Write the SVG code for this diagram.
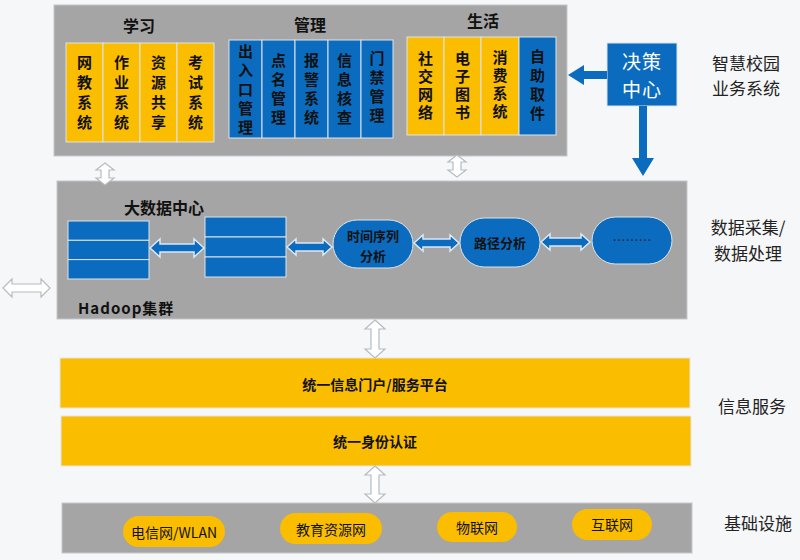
<svg xmlns="http://www.w3.org/2000/svg" width="800" height="560" viewBox="0 0 800 560">
<defs>
<style>
.panel{fill:#a5a5a5;stroke:#c4c8cc;stroke-width:1}
.y{fill:#fbbd00;stroke:#dde4ea;stroke-width:1}
.b{fill:#0b6cbf;stroke:#dde4ea;stroke-width:1}
.vt{font-family:"Noto Sans CJK SC","Noto Sans",sans-serif;font-size:15px;font-weight:bold;fill:#111;text-anchor:middle;writing-mode:vertical-rl}
.s5{letter-spacing:5px}
.s4{letter-spacing:4px}
.s3{letter-spacing:3px}
.hd{font-family:"Noto Sans CJK SC","Noto Sans",sans-serif;font-size:16px;font-weight:bold;fill:#111;text-anchor:middle;dominant-baseline:central}
.lbl{font-family:"Noto Sans CJK SC","Noto Sans",sans-serif;font-size:17px;fill:#222;text-anchor:middle;dominant-baseline:central}
.pt{font-family:"Noto Sans CJK SC","Noto Sans",sans-serif;font-size:13px;font-weight:bold;fill:#111;text-anchor:middle;dominant-baseline:central}
.bt{font-family:"Noto Sans CJK SC","Noto Sans",sans-serif;font-size:14px;fill:#111;text-anchor:middle;dominant-baseline:central}
.hollow{fill:#ffffff;stroke:#b4bcc4;stroke-width:1.2}
.barrow{fill:#0b6cbf;stroke:#dbe8f5;stroke-width:1.5}
.warrow{fill:#0b6cbf;stroke:none}
</style>
</defs>
<rect x="0" y="0" width="800" height="560" fill="#f6f7f8"/>

<g id="top-panel">
<rect class="panel" x="54" y="5" width="513" height="151"/>
</g>

<g id="learning">
<text class="hd" x="139" y="25">学习</text>
<rect class="y" x="66" y="43" width="37" height="99"/>
<rect class="y" x="103" y="43" width="37" height="99"/>
<rect class="y" x="140" y="43" width="37" height="99"/>
<rect class="y" x="177" y="43" width="37" height="99"/>
<text class="vt s5" x="84.5" y="95">网教系统</text>
<text class="vt s5" x="121.5" y="95">作业系统</text>
<text class="vt s5" x="158.5" y="95">资源共享</text>
<text class="vt s5" x="195.5" y="95">考试系统</text>
</g>

<g id="management">
<text class="hd" x="310" y="24">管理</text>
<rect class="b" x="229" y="40" width="33" height="98"/>
<rect class="b" x="262" y="40" width="33" height="98"/>
<rect class="b" x="295" y="40" width="33" height="98"/>
<rect class="b" x="328" y="40" width="33" height="98"/>
<rect class="b" x="361" y="40" width="32" height="98"/>
<text class="vt s4" x="245.5" y="91">出入口管理</text>
<text class="vt s4" x="278.5" y="91">点名管理</text>
<text class="vt s4" x="311.5" y="91">报警系统</text>
<text class="vt s4" x="344.5" y="90.5">信息核查</text>
<text class="vt s4" x="377" y="88.5">门禁管理</text>
</g>

<g id="life">
<text class="hd" x="483" y="20">生活</text>
<rect class="y" x="407" y="37" width="37" height="98"/>
<rect class="y" x="444" y="37" width="37" height="98"/>
<rect class="y" x="481" y="37" width="38" height="98"/>
<rect class="b" x="519" y="37" width="37" height="98"/>
<text class="vt s3" x="425.5" y="86.5">社交网络</text>
<text class="vt s3" x="462.5" y="86.5">电子图书</text>
<text class="vt s3" x="500" y="85.5">消费系统</text>
<text class="vt s4" x="537.5" y="86.5">自助取件</text>
</g>

<g id="decision-center">
<rect class="b" x="607" y="43" width="70" height="63"/>
<text x="642" y="60" font-family="Noto Sans CJK SC, sans-serif" font-size="19" fill="#ffffff" text-anchor="middle" dominant-baseline="central" letter-spacing="1">决策</text>
<text x="642" y="88" font-family="Noto Sans CJK SC, sans-serif" font-size="19" fill="#ffffff" text-anchor="middle" dominant-baseline="central" letter-spacing="1">中心</text>
</g>

<g id="label-business">
<text class="lbl" x="746" y="62">智慧校园</text>
<text class="lbl" x="746" y="87">业务系统</text>
</g>

<g id="data-panel">
<rect class="panel" x="57" y="181" width="630" height="138"/>
<text class="hd" x="164" y="207" font-size="17">大数据中心</text>
<text x="78" y="307" font-family="Noto Sans CJK SC, sans-serif" font-size="15" font-weight="bold" fill="#111" dominant-baseline="central" letter-spacing="1">Hadoop集群</text>
</g>

<g id="table1">
<rect class="b" x="68" y="221" width="81" height="19.3"/>
<rect class="b" x="68" y="240.3" width="81" height="19.3"/>
<rect class="b" x="68" y="259.6" width="81" height="19.4"/>
</g>
<g id="table2">
<rect class="b" x="205" y="217" width="81" height="20"/>
<rect class="b" x="205" y="237" width="81" height="20"/>
<rect class="b" x="205" y="257" width="81" height="20"/>
</g>
<g id="time-series">
<rect class="b" x="333" y="220" width="80" height="48" rx="24"/>
<text class="pt" x="373" y="235">时间序列</text>
<text class="pt" x="373" y="255">分析</text>
</g>
<g id="path-analysis">
<rect class="b" x="460" y="218" width="80" height="49" rx="24.5"/>
<text class="pt" x="500" y="242">路径分析</text>
</g>
<g id="more">
<rect class="b" x="592" y="217" width="80" height="47" rx="23.5"/>
<text x="632" y="239" font-family="Noto Sans CJK SC, sans-serif" font-size="13" fill="#1a2a3a" text-anchor="middle" dominant-baseline="central">………</text>
</g>

<g id="label-data">
<text class="lbl" x="748" y="226">数据采集/</text>
<text class="lbl" x="748" y="252">数据处理</text>
</g>

<g id="portal">
<rect x="60" y="358" width="630" height="50" fill="#fbbd00" stroke="#e3e6e9" stroke-width="1"/>
<text class="bt" x="375" y="384" font-weight="bold">统一信息门户/服务平台</text>
</g>
<g id="identity">
<rect x="61" y="416" width="630" height="50" fill="#fbbd00" stroke="#e3e6e9" stroke-width="1"/>
<text class="bt" x="375" y="441" font-weight="bold">统一身份认证</text>
</g>
<g id="label-info">
<text class="lbl" x="752" y="405">信息服务</text>
</g>

<g id="infra-panel">
<rect class="panel" x="62" y="503" width="630" height="50"/>
</g>
<g id="telecom">
<rect x="123" y="516" width="102" height="31" rx="15.5" fill="#fbbd00"/>
<text class="bt" x="174" y="532">电信网/WLAN</text>
</g>
<g id="edu-net">
<rect x="280" y="513" width="102" height="31" rx="15.5" fill="#fbbd00"/>
<text class="bt" x="331" y="529">教育资源网</text>
</g>
<g id="iot">
<rect x="437" y="512" width="80" height="30" rx="15" fill="#fbbd00"/>
<text class="bt" x="477" y="527">物联网</text>
</g>
<g id="internet">
<rect x="572" y="509" width="80" height="31" rx="15.5" fill="#fbbd00"/>
<text class="bt" x="612" y="524">互联网</text>
</g>
<g id="label-infra">
<text class="lbl" x="758" y="522">基础设施</text>
</g>

<g id="connectors">
<path class="warrow" d="M607,71 L584,71 L584,65 L568,75 L584,85 L584,79 L607,79 Z"/>
<path class="warrow" d="M639,106 L647,106 L647,158 L654,158 L643,176 L632,158 L639,158 Z"/>
<path class="hollow" d="M105,163 L114,170 L109,170 L109,178 L114,178 L105,185 L96,178 L101,178 L101,170 L96,170 Z"/>
<path class="hollow" d="M457,155 L466,162 L461,162 L461,170 L466,170 L457,177 L448,170 L453,170 L453,162 L448,162 Z"/>
<path class="hollow" d="M375,320 L385,329 L379,329 L379,349 L385,349 L375,358 L365,349 L371,349 L371,329 L365,329 Z"/>
<path class="hollow" d="M375,466 L385,475 L379,475 L379,494 L385,494 L375,503 L365,494 L371,494 L371,475 L365,475 Z"/>
<path class="hollow" d="M3,288 L12,279 L12,284 L41,284 L41,279 L50,288 L41,297 L41,292 L12,292 L12,297 Z"/>
<path class="barrow" d="M150,248 L160,239 L160,244 L194,244 L194,239 L204,248 L194,257 L194,252 L160,252 L160,257 Z"/>
<path class="barrow" d="M287,247 L296,239 L296,243 L323,243 L323,239 L332,247 L323,255 L323,251 L296,251 L296,255 Z"/>
<path class="barrow" d="M414,243 L423,235 L423,239 L450,239 L450,235 L459,243 L450,251 L450,247 L423,247 L423,251 Z"/>
<path class="barrow" d="M541,242 L550,234 L550,238 L581,238 L581,234 L590,242 L581,250 L581,246 L550,246 L550,250 Z"/>
</g>
</svg>
